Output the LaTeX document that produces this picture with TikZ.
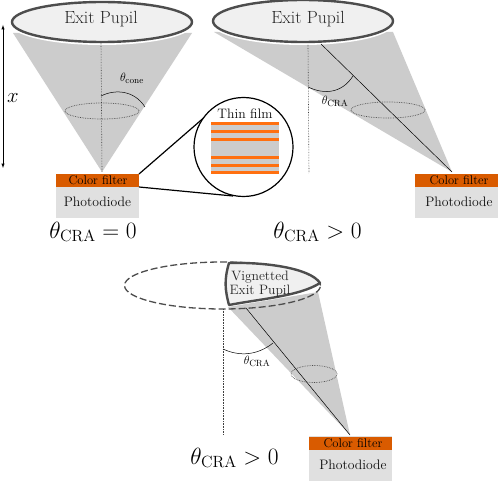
\documentclass[tikz,border=0pt]{standalone}
\definecolor{pupilgray}{HTML}{F0F0F0}
\definecolor{pupilline}{HTML}{4D4D4D}
\definecolor{conegray}{HTML}{CCCCCC}
\definecolor{diodegray}{HTML}{E0E0E0}
\definecolor{filterorange}{HTML}{D95B00}
\definecolor{filmorange}{HTML}{FF7010}
\tikzset{
    pupil/.style={draw=pupilline, line width=2.4pt, fill=pupilgray},
    halo/.style={draw=white, line width=4pt},
    cone/.style={fill=conegray},
    axisline/.style={densely dotted, line width=0.6pt, black!75},
    ring/.style={densely dotted, line width=0.7pt, black!70},
    pupiltext/.style={text=black!85, font=\fontsize{17.6}{19}\selectfont},
    filtertext/.style={font=\fontsize{12.6}{15}\selectfont},
    diodetext/.style={text=black!95, font=\fontsize{13.7}{15}\selectfont},
    anglelabel/.style={font=\fontsize{13}{14}\selectfont},
    caption/.style={font=\fontsize{20.74}{24}\selectfont, scale=1.13},
}
\begin{document}
\begin{tikzpicture}[x=1pt, y=-1pt]
    \useasboundingbox (0, 0) rectangle (498, 481);
    \fill[white] (0, 0) rectangle (498, 481);

    \coordinate (pupilA) at (102, 22);
    \coordinate (apexA) at (102, 172);
    \coordinate (topA) at (101, 43);
    \fill[cone] (13, 33) -- (192, 33) -- (apexA) -- cycle;
    \draw[halo] (pupilA) ellipse (91pt and 21pt);
    \draw[pupil] (pupilA) ellipse (90pt and 20pt);
    \node[pupiltext] (exitA) at (101, 19) {Exit Pupil};
    \draw[axisline] (topA) -- (apexA);
    \draw[ring] (102, 111) ellipse (37pt and 8pt);
    \coordinate (arcA) at (101, 96);
    \coordinate (arcB) at (145, 107);
    \draw[line width=0.5pt] (arcA) .. controls (115, 89) and (134, 90) .. (arcB);
    \node[anglelabel] (thetacone) at (132, 78) {$\theta_{\mathrm{cone}}$};
    \coordinate (heightA) at (3, 25);
    \coordinate (heightB) at (3, 168);
    \draw[latex-latex, line width=0.5pt] (heightA) -- (heightB);
    \node[font=\fontsize{20}{22}\selectfont] (height) at (13, 98) {$x$};
    \fill[filterorange] (56, 174) rectangle (139, 187);
    \fill[diodegray] (56, 187) rectangle (139, 218);
    \node[filtertext] (filterA) at (98, 180.5) {Color filter};
    \node[diodetext] (diodeA) at (97.5, 202) {Photodiode};
    \node[caption] (captionA) at (93, 232) {$\theta_{\mathrm{CRA}} = 0$};

    \coordinate (film) at (243.5, 147);
    \coordinate (zoomA) at (139, 174);
    \coordinate (zoomB) at (207, 115);
    \coordinate (zoomC) at (139, 187);
    \coordinate (zoomD) at (233, 196);
    \draw[line width=1.2pt] (zoomA) -- (zoomB);
    \draw[line width=1.2pt] (zoomC) -- (zoomD);
    \draw[line width=1.2pt, fill=white] (film) circle (49.5pt);
    \node[diodetext] (thinfilm) at (245, 113.5) {Thin film};
    \fill[conegray] (211, 122) rectangle (279, 174.5);
    \foreach \y in {122, 130, 138, 156, 164, 171}
        \fill[filmorange] (211, \y) rectangle (279, \y + 3.4);

    \coordinate (pupilB) at (303, 21);
    \coordinate (apexB) at (452, 172);
    \fill[cone] (214, 32) -- (393, 32) -- (apexB) -- cycle;
    \draw[halo] (pupilB) ellipse (91pt and 22pt);
    \draw[pupil] (pupilB) ellipse (90pt and 21pt);
    \node[pupiltext] (exitB) at (308, 19) {Exit Pupil};
    \coordinate (axisB) at (308, 45);
    \coordinate (axisC) at (309, 173);
    \draw[axisline] (axisB) -- (axisC);
    \coordinate (craB) at (321, 44);
    \draw[line width=0.5pt] (craB) -- (apexB);
    \draw[ring] (388, 110) ellipse (37pt and 8pt);
    \coordinate (arcC) at (308, 87);
    \coordinate (arcD) at (353, 76);
    \draw[line width=0.5pt] (arcC) .. controls (325, 95) and (342, 93) .. (arcD);
    \node[anglelabel] (thetaB) at (335, 101.5) {$\theta_{\mathrm{CRA}}$};
    \fill[filterorange] (415, 174) rectangle (498, 187);
    \fill[diodegray] (415, 187) rectangle (498, 218);
    \node[filtertext] (filterB) at (459, 180.5) {Color filter};
    \node[diodetext] (diodeB) at (459, 202) {Photodiode};
    \node[caption] (captionB) at (317.5, 232) {$\theta_{\mathrm{CRA}} > 0$};

    \coordinate (pupilC) at (222.5, 285.5);
    \coordinate (apexC) at (350, 435);
    \fill[cone] (228, 307) -- (318, 292) -- (apexC) -- cycle;
    \draw[line width=1.3pt, pupilline, dash pattern=on 7pt off 3pt] (pupilC) ellipse (98pt and 23.5pt);
    \draw[pupil, line join=round] (229, 263) .. controls (265, 262) and (310, 268) .. (320, 283)
        .. controls (300, 296) and (260, 299) .. (229, 305)
        .. controls (225, 290) and (224, 280) .. cycle;
    \node[text=black!85, font=\fontsize{13.6}{14}\selectfont, align=center] (exitC) at (260, 284.5) {Vignetted\\Exit Pupil};
    \coordinate (axisD) at (223, 309);
    \coordinate (axisE) at (223, 435);
    \draw[axisline] (axisD) -- (axisE);
    \coordinate (craC) at (246, 308);
    \draw[line width=0.5pt] (craC) -- (apexC);
    \draw[ring] (314, 374) ellipse (23pt and 8.5pt);
    \coordinate (arcE) at (223, 349);
    \coordinate (arcF) at (273, 343);
    \draw[line width=0.5pt] (arcE) .. controls (240, 357) and (258, 355) .. (arcF);
    \node[anglelabel] (thetaC) at (257, 361.5) {$\theta_{\mathrm{CRA}}$};
    \fill[diodegray] (309, 436) rectangle (392, 481);
    \fill[filterorange] (309, 437) rectangle (392, 450);
    \node[filtertext] (filterC) at (353, 443.5) {Color filter};
    \node[diodetext] (diodeC) at (353, 465) {Photodiode};
    \node[caption] (captionC) at (234.5, 458) {$\theta_{\mathrm{CRA}} > 0$};
\end{tikzpicture}
\end{document}
